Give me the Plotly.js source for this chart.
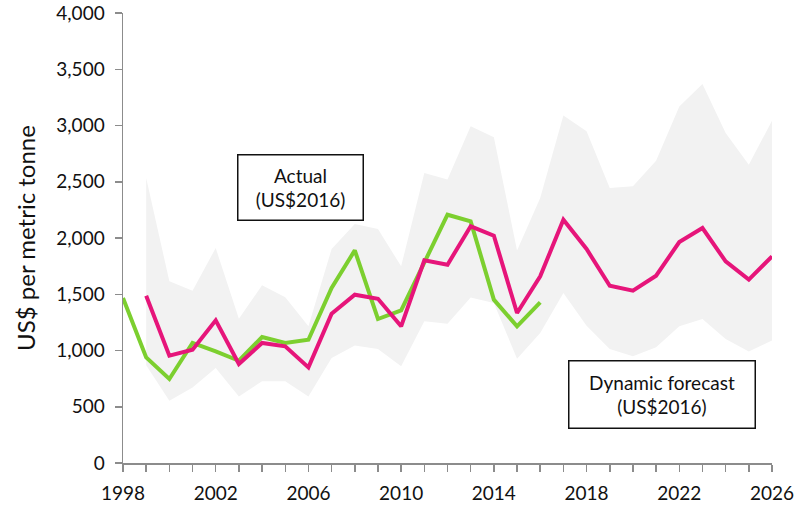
<!DOCTYPE html>
<html>
<head>
<meta charset="utf-8">
<script src="https://cdn.plot.ly/plotly-3.0.1.min.js"></script>
<style>html,body{margin:0;padding:0;background:#fff}#chart{width:799px;height:510px}</style>
</head>
<body>
<div id="chart"></div>
<script>
var actualYears = [1998,1999,2000,2001,2002,2003,2004,2005,2006,2007,2008,2009,2010,2011,2012,2013,2014,2015,2016];
var actualValues = [1467,939,747,1067,992,909,1120,1067,1096,1556,1890,1280,1357,1778,2207,2148,1452,1215,1428];

var forecastYears = [1999,2000,2001,2002,2003,2004,2005,2006,2007,2008,2009,2010,2011,2012,2013,2014,2015,2016,2017,2018,2019,2020,2021,2022,2023,2024,2025,2026];
var forecastValues = [1487,954,1007,1268,880,1067,1037,850,1327,1496,1460,1215,1801,1763,2104,2021,1333,1659,2163,1902,1576,1532,1665,1964,2089,1792,1630,1837];
var bandUpper = [2533,1615,1532,1911,1283,1579,1473,1215,1902,2124,2080,1748,2578,2519,2993,2895,1890,2356,3090,2948,2444,2459,2687,3170,3369,2933,2652,3043];
var bandLower = [870,554,672,844,592,726,726,592,933,1045,1013,859,1259,1238,1472,1422,927,1156,1511,1220,1013,948,1028,1215,1280,1102,992,1090];

var yTickVals = [0,500,1000,1500,2000,2500,3000,3500,4000];
var xTickVals = [1998,2002,2006,2010,2014,2018,2022,2026];

var fontFam = 'Lato, "Open Sans", sans-serif';

var traces = [
  {x: forecastYears, y: bandLower, type:'scatter', mode:'lines', line:{width:0, color:'rgba(0,0,0,0)'}, hoverinfo:'skip', showlegend:false},
  {x: forecastYears, y: bandUpper, type:'scatter', mode:'lines', fill:'tonexty', fillcolor:'#f2f2f2', line:{width:0, color:'rgba(0,0,0,0)'}, hoverinfo:'skip', showlegend:false},
  {x: actualYears, y: actualValues, type:'scatter', mode:'lines', name:'Actual (US$2016)', line:{color:'#7ccf2f', width:4}},
  {x: forecastYears, y: forecastValues, type:'scatter', mode:'lines', name:'Dynamic forecast (US$2016)', line:{color:'#e6157a', width:4}}
];

var layout = {
  width:799, height:510,
  margin:{l:123, r:27, t:13, b:47},
  paper_bgcolor:'#fff', plot_bgcolor:'#fff',
  showlegend:false,
  font:{family:fontFam, size:19, color:'#111'},
  xaxis:{
    range:[1998,2026], tickvals:xTickVals, ticktext:xTickVals.map(String),
    showgrid:false, zeroline:false, showline:true, linecolor:'#8c8c8c', linewidth:1.5,
    ticks:'outside', ticklen:7, tickcolor:'#8c8c8c', tickwidth:1.5, ticklabelstandoff:6,
    minor:{dtick:1, tick0:1998, ticks:'outside', ticklen:7, tickcolor:'#8c8c8c', tickwidth:1.5, showgrid:false},
    tickfont:{family:fontFam, size:19, color:'#111'}
  },
  yaxis:{
    range:[0,4000], tickvals:yTickVals, tickformat:',',
    showgrid:false, zeroline:false, showline:true, linecolor:'#8c8c8c', linewidth:1.5,
    ticks:'outside', ticklen:7, tickcolor:'#8c8c8c', tickwidth:1.5, ticklabelstandoff:6,
    tickfont:{family:fontFam, size:19, color:'#111'},
    title:{text:'US$ per metric tonne', font:{family:fontFam, size:24, color:'#111'}, standoff:14}
  },
  annotations:[
    {xref:'paper', yref:'paper', x:(300-123)/648, y:(463-187.5)/450, xanchor:'center', yanchor:'middle',
     text:'Actual<br>(US$2016)', showarrow:false, font:{family:fontFam, size:19, color:'#111'},
     bordercolor:'#111', borderwidth:1.5, borderpad:5, bgcolor:'#fff', width:114, height:54, align:'center'},
    {xref:'paper', yref:'paper', x:(661.5-123)/648, y:(463-394.5)/450, xanchor:'center', yanchor:'middle',
     text:'Dynamic forecast<br>(US$2016)', showarrow:false, font:{family:fontFam, size:19, color:'#111'},
     bordercolor:'#111', borderwidth:1.5, borderpad:5, bgcolor:'#fff', width:175, height:56, align:'center'}
  ]
};

Plotly.newPlot('chart', traces, layout, {displayModeBar:false, staticPlot:true});
</script>
</body>
</html>
